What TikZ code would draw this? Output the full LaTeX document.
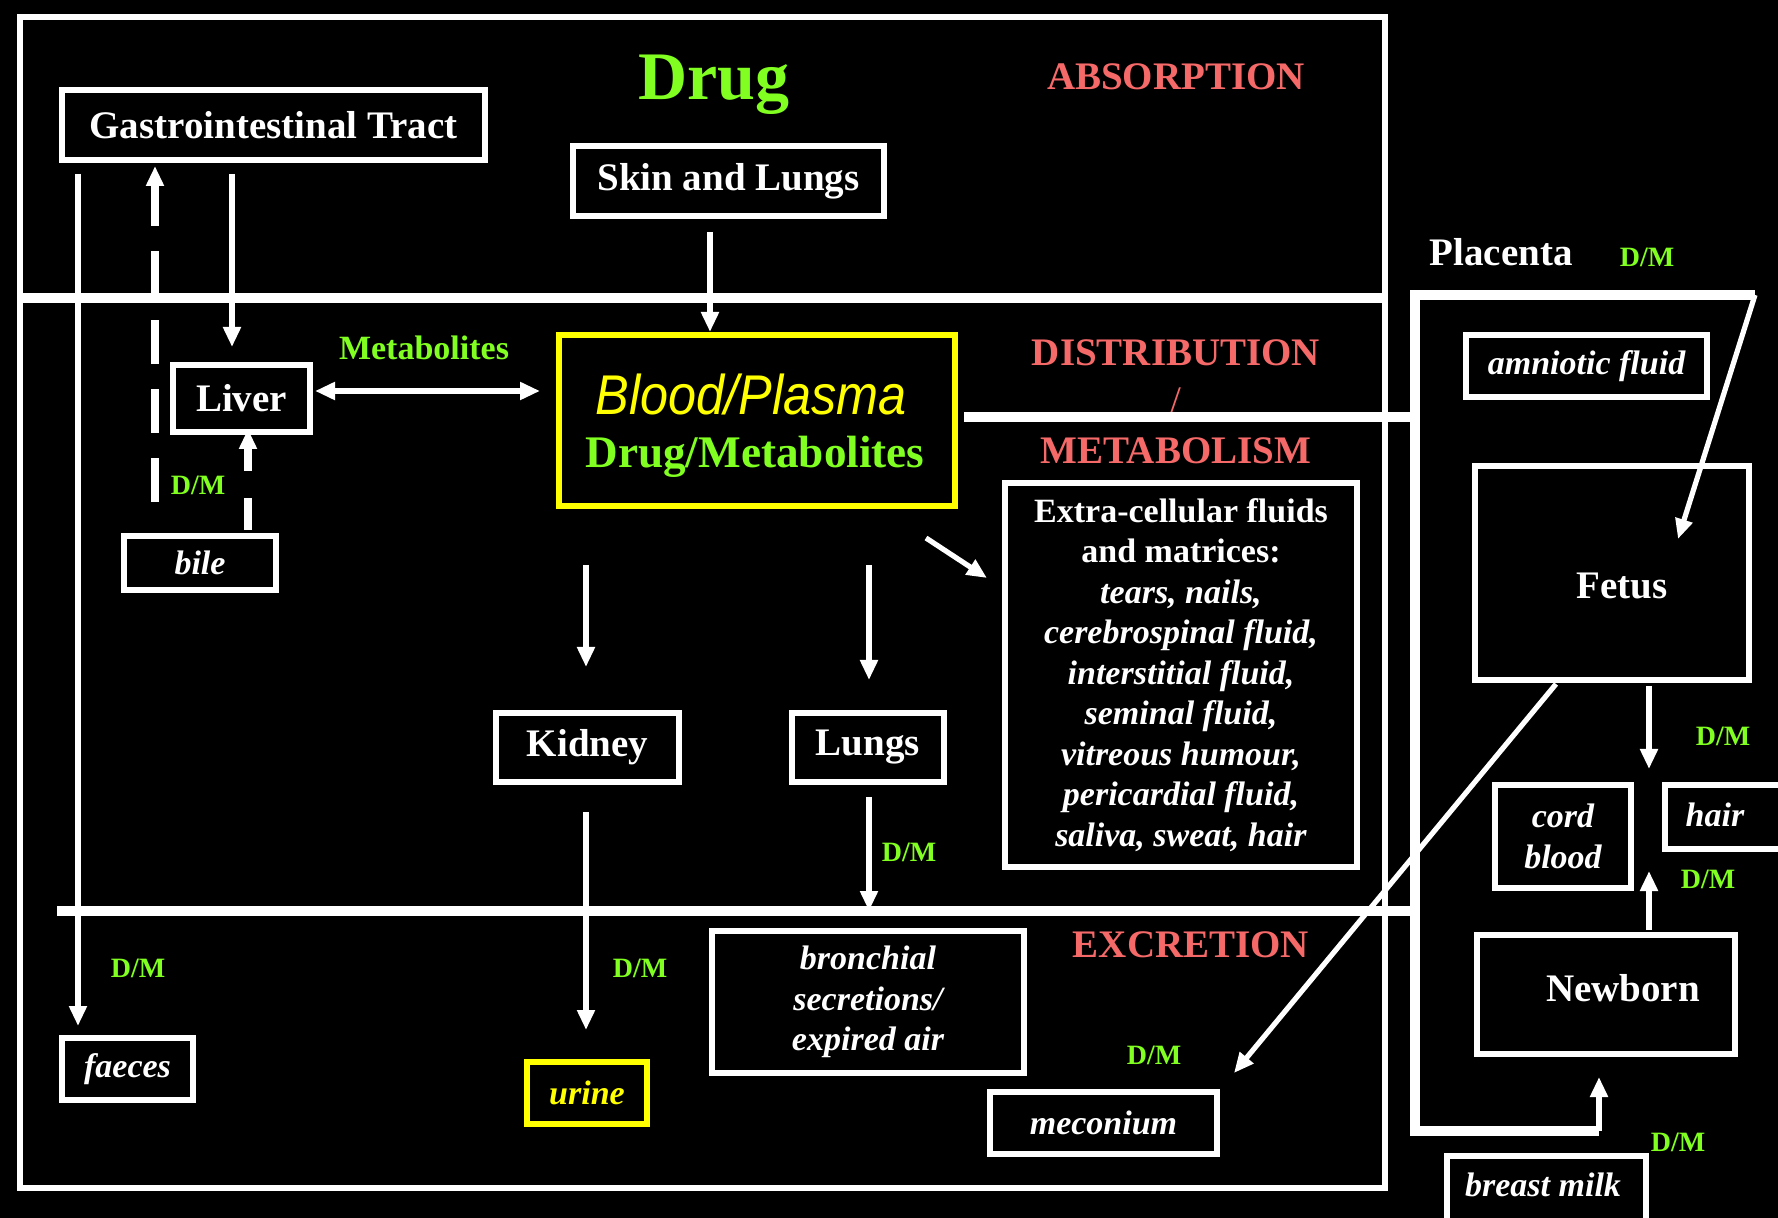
\documentclass[tikz,border=0pt]{standalone}
\usepackage{graphicx}
\usepackage{fontspec}
\setmainfont{Liberation Serif}
\newfontfamily\sansf{Liberation Sans}
\usetikzlibrary{arrows.meta,calc}
\definecolor{dmgreen}{RGB}{128,255,32}
\definecolor{salmon}{RGB}{245,105,105}
\definecolor{yel}{RGB}{255,255,0}
\begin{document}
\begin{tikzpicture}[x=0.5pt,y=-0.5pt,
  >={Triangle[length=10pt,width=8.5pt]},
  box/.style={draw=white,line width=3pt,fill=black,inner sep=0pt,text=white},
  bigf/.style={font=\fontsize{19.5}{23}\selectfont\bfseries},
  itf/.style={font=\fontsize{17}{20.25}\selectfont\bfseries\itshape},
  arr/.style={draw=white,line width=2.6pt,->},
  dasharr/.style={draw=white,line width=4pt,->},
  sepline/.style={draw=white,line width=5pt},
  dm/.style={text=dmgreen,font=\fontsize{14}{16}\selectfont\bfseries},
  head/.style={text=salmon,font=\fontsize{19.5}{23}\selectfont\bfseries}
]
\useasboundingbox (0,0) rectangle (1778,1218);
\fill[black] (0,0) rectangle (1778,1218);
\clip (0,0) rectangle (1778,1218);

% outer frame and separators
\draw[white,line width=3pt] (20,17) rectangle (1385,1188);
\coordinate (s1a) at (23,298);  \coordinate (s1b) at (1386,298);
\coordinate (s2a) at (57,911);  \coordinate (s2b) at (1415,911);
\coordinate (plTR) at (1755,295);
\coordinate (plTL) at (1415,295);
\coordinate (plBL) at (1415,1131);
\coordinate (plBR) at (1599,1131);
\draw[sepline] (s1a) -- (s1b);
\draw[sepline] (s2a) -- (s2b);
\draw[sepline,line join=miter] (plTR) -- (plTL) -- (plBL) -- (plBR);

% boxes
\node[box,bigf,minimum width=211.5pt,minimum height=35pt] (gi) at (273.5,125) {Gastrointestinal Tract};
\node[box,bigf,minimum width=155.5pt,minimum height=35pt] (skin) at (728.5,181) {Skin and Lungs};
\node[box,draw=yel,minimum width=198pt,minimum height=85.5pt] (blood) at (757,420.5) {};
\node[text=yel,font=\sansf\itshape\fontsize{28}{32}\selectfont] (bp1) at (751,395) {\scalebox{0.9}[1]{Blood/Plasma}};
\node[text=dmgreen,font=\fontsize{22.6}{26}\selectfont\bfseries] (bp2) at (755,457) {Drug/Metabolites};
\node[box,bigf,minimum width=68.5pt,minimum height=33.5pt] (liver) at (241.5,398.5) {Liver};
\node[box,itf,minimum width=76pt,minimum height=27pt] (bile) at (200,563) {bile};
\node[box,bigf,minimum width=91.5pt,minimum height=34.5pt] (kidney) at (587.5,747.5) {Kidney};
\node[box,bigf,minimum width=76pt,minimum height=34.5pt] (lungs) at (868,747.5) {Lungs};
\node[box,draw=yel,text=yel,itf,minimum width=60pt,minimum height=31pt] (urine) at (587,1093) {urine};
\node[box,itf,minimum width=65.5pt,minimum height=31pt] (faeces) at (127.5,1069) {faeces};
\node[box,itf,align=center,minimum width=156pt,minimum height=71pt] (bronchial) at (868,1002) {bronchial\\secretions/\\expired air};
\node[box,font=\fontsize{17}{20.25}\selectfont\bfseries,align=center,minimum width=176pt,minimum height=192pt] (extra) at (1181,675)
  {Extra-cellular fluids\\and matrices:\\\textit{tears, nails,}\\\textit{cerebrospinal fluid,}\\\textit{interstitial fluid,}\\\textit{seminal fluid,}\\\textit{vitreous humour,}\\\textit{pericardial fluid,}\\\textit{saliva, sweat, hair}};
\node[box,itf,minimum width=113.5pt,minimum height=31pt] (meconium) at (1103.5,1123) {meconium};
\node[box,itf,minimum width=120.5pt,minimum height=31pt] (amniotic) at (1586.5,366) {amniotic fluid};
\node[box,minimum width=137pt,minimum height=107pt,
  label={[text=white,bigf,xshift=5pt,yshift=-6.5pt]center:Fetus}] (fetus) at (1612,573) {};
\node[box,itf,align=center,minimum width=68pt,minimum height=51.5pt] (cord) at (1563,836.5) {cord\\blood};
\node[box,minimum width=66pt,minimum height=32pt,
  label={[text=white,itf,xshift=-8pt,yshift=1pt]center:hair}] (hair) at (1731,817) {};
\node[box,minimum width=129pt,minimum height=59.5pt,
  label={[text=white,bigf,xshift=8.5pt,yshift=3pt]center:Newborn}] (newborn) at (1606,994.5) {};
\node[box,minimum width=99.5pt,minimum height=40.5pt,
  label={[text=white,itf,xshift=-1.75pt,yshift=5.75pt]center:breast milk}] (breast) at (1546.5,1196.5) {};

% plain texts
\node[text=dmgreen,font=\fontsize{34}{40}\selectfont\bfseries] (drug) at (714,85) {Drug};
\node[head] (absorption) at (1176,77) {ABSORPTION};
\node[head] (distribution) at (1176,353) {DISTRIBUTION};
\node[head,font=\fontsize{19.5}{23}\selectfont\mdseries] (slash) at (1176,401) {/};
\node[head] (metabolism) at (1176,451) {METABOLISM};
\node[head] (excretion) at (1191,945) {EXCRETION};
\node[text=dmgreen,font=\fontsize{17}{20}\selectfont\bfseries] (metab) at (424,348) {Metabolites};
\node[text=white,bigf] (placenta) at (1501,252) {Placenta};
\node[dm] (dm1) at (198,485) {D/M};
\node[dm] (dm2) at (138,968) {D/M};
\node[dm] (dm3) at (640,968) {D/M};
\node[dm] (dm4) at (909,852) {D/M};
\node[dm] (dm5) at (1154,1055) {D/M};
\node[dm] (dm6) at (1647,257) {D/M};
\node[dm] (dm7) at (1723,736) {D/M};
\node[dm] (dm8) at (1708,879) {D/M};
\node[dm] (dm9) at (1678,1142) {D/M};

% line from blood to placenta
\draw[sepline] ($(blood.east)+(6,-3.5)$) -- (plTL |- 0,417);

% connectors
\draw[arr] ($(skin.south)+(-18.5,13)$) -- ($(skin.south |- blood.north)+(-18.5,0)$);
\draw[arr] ($(gi.south)+(-41.5,11)$) -- ($(liver.north)+(-9.5,-15)$);
\draw[arr,<->] ($(liver.east)+(2,-7.5)$) -- ($(blood.west |- liver.east)+(-16,-7.5)$);
\coordinate (dashbot) at (155,502);
\draw[dasharr,dash pattern=on 22pt off 12.5pt] (dashbot) -- ($(dashbot |- gi.south)+(0,3)$);
\draw[dasharr,dash pattern=on 16pt off 13.5pt] ($(bile.north)+(48,-3)$) -- ($(liver.south)+(6.5,-6)$);
\draw[arr] ($(gi.south)+(-195.5,11)$) -- ($(faeces.north)+(-49.5,-9)$);
\draw[arr] ($(blood.south)+(-171,56)$) -- ($(kidney.north)+(-1.5,-43)$);
\draw[arr] ($(blood.south)+(112,56)$) -- ($(lungs.north)+(1,-30)$);
\draw[arr] ($(blood.south east)+(-32,29)$) -- ($(extra.north west)+(-15,98)$);
\draw[arr] ($(kidney.south)+(-1.5,27)$) -- ($(urine.north)+(-1,-29)$);
\draw[arr] ($(lungs.south)+(1,12)$) -- ($(bronchial.north)+(1,-17)$);
\draw[arr] ($(fetus.south west)+(84,1)$) -- ($(meconium.north east)+(14,-16)$);
\draw[arr] ($(fetus.south)+(37,3)$) -- ($(cord.north east)+(15,-13)$);
\draw[arr] ($(newborn.north)+(43,-2)$) -- ($(cord.south east)+(15,-20)$);
\draw[arr] (plTR) -- ($(fetus.north)+(66,76)$);
\draw[arr] (plBR) -- ($(newborn.south)+(-7,20)$);
\end{tikzpicture}
\end{document}
